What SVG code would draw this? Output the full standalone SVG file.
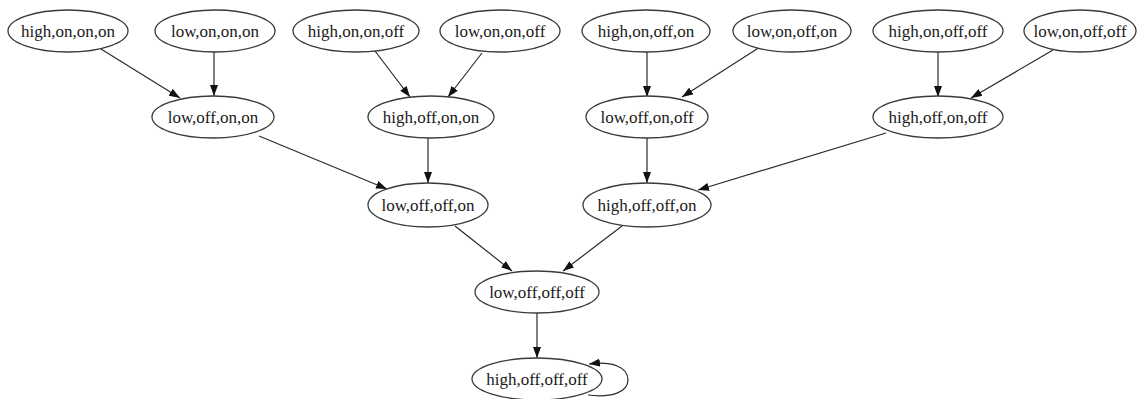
<svg xmlns="http://www.w3.org/2000/svg" width="1138" height="399" viewBox="0 0 1138 399">
<style>
.n ellipse{fill:#fff;stroke:#3a3a3a;stroke-width:1.3}
.n text{font-family:"Liberation Serif","Times New Roman",serif;font-size:17px;fill:#1a1a1a;text-anchor:middle;dominant-baseline:central}
#edges path{fill:none;stroke:#2a2a2a;stroke-width:1.2;marker-end:url(#ah)}
</style>
<defs>
<marker id="ah" markerUnits="userSpaceOnUse" markerWidth="11" markerHeight="8" refX="11" refY="4" orient="auto">
<path d="M0,0 L11,4 L0,8 z" fill="#111"/>
</marker>
</defs>
<rect width="1138" height="399" fill="#fff"/>
<g id="edges">
<path d="M101,49 L180,98"/>
<path d="M214,52 L214,96"/>
<path d="M375,51 L410,97"/>
<path d="M482,53 L448,97"/>
<path d="M647,52 L647,97"/>
<path d="M760,47 L682,97"/>
<path d="M938,52 L938,97"/>
<path d="M1053,50 L971,98"/>
<path d="M259,136 L387,189"/>
<path d="M428,138 L428,183"/>
<path d="M647,138 L647,183"/>
<path d="M886,133 L698,190"/>
<path d="M455,226 L512,271"/>
<path d="M622,226 L563,271"/>
<path d="M537,313 L537,358"/>
<path d="M588,395 C612,398 628,392 628,380 C628,367 612,361 589,364"/>
</g>
<g id="n1" class="n"><ellipse cx="68" cy="31" rx="60" ry="21"/><text x="68" y="31">high,on,on,on</text></g>
<g id="n2" class="n"><ellipse cx="215" cy="31" rx="60" ry="21"/><text x="215" y="31">low,on,on,on</text></g>
<g id="n3" class="n"><ellipse cx="356" cy="31" rx="63" ry="21"/><text x="356" y="31">high,on,on,off</text></g>
<g id="n4" class="n"><ellipse cx="500" cy="31" rx="60" ry="21"/><text x="500" y="31">low,on,on,off</text></g>
<g id="n5" class="n"><ellipse cx="646" cy="31" rx="64" ry="21"/><text x="646" y="31">high,on,off,on</text></g>
<g id="n6" class="n"><ellipse cx="792" cy="31" rx="59" ry="21"/><text x="792" y="31">low,on,off,on</text></g>
<g id="n7" class="n"><ellipse cx="938" cy="31" rx="65" ry="21"/><text x="938" y="31">high,on,off,off</text></g>
<g id="n8" class="n"><ellipse cx="1080" cy="31" rx="56" ry="21"/><text x="1080" y="31">low,on,off,off</text></g>
<g id="n9" class="n"><ellipse cx="213" cy="117" rx="61" ry="21"/><text x="213" y="117">low,off,on,on</text></g>
<g id="n10" class="n"><ellipse cx="431" cy="117" rx="63" ry="21"/><text x="431" y="117">high,off,on,on</text></g>
<g id="n11" class="n"><ellipse cx="647" cy="117" rx="61" ry="21"/><text x="647" y="117">low,off,on,off</text></g>
<g id="n12" class="n"><ellipse cx="938" cy="117" rx="65" ry="21"/><text x="938" y="117">high,off,on,off</text></g>
<g id="n13" class="n"><ellipse cx="428" cy="205" rx="60" ry="22"/><text x="428" y="205">low,off,off,on</text></g>
<g id="n14" class="n"><ellipse cx="647" cy="205" rx="64" ry="22"/><text x="647" y="205">high,off,off,on</text></g>
<g id="n15" class="n"><ellipse cx="537" cy="292" rx="62" ry="21"/><text x="537" y="292">low,off,off,off</text></g>
<g id="n16" class="n"><ellipse cx="537" cy="379" rx="65" ry="21"/><text x="537" y="379">high,off,off,off</text></g>
</svg>
